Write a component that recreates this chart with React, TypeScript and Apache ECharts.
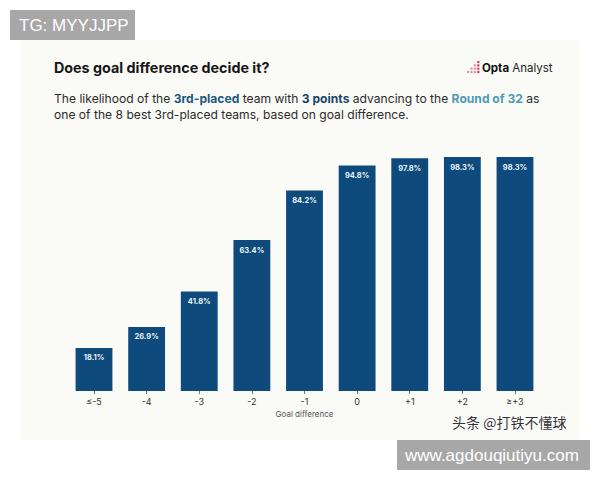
import React, { useEffect, useRef } from "react";
import * as echarts from "echarts";

const categories = ["≤-5", "-4", "-3", "-2", "-1", "0", "+1", "+2", "≥+3"];
const likelihood = [18.1, 26.9, 41.8, 63.4, 84.2, 94.8, 97.8, 98.3, 98.3];

const titleText = "Does goal difference decide it?";
const axisName = "Goal difference";

export default function App() {
  const ref = useRef<HTMLDivElement>(null);
  useEffect(() => {
    if (!ref.current) return;
    const chart = echarts.init(ref.current, null, { renderer: "svg" });
    const font = "Inter, 'Noto Sans', sans-serif";
    const dots: any[] = [];
    const dotSpec = [
      [0, 3], [1, 3], [2, 3], [3, 3],
      [1, 2], [2, 2], [3, 2],
      [2, 1], [3, 1], [3, 0],
    ];
    dotSpec.forEach(([c, r]) => {
      dots.push({
        type: "rect",
        shape: { x: 467 + c * 3.4, y: 61 + r * 3.3, width: 2.2, height: 2.2 },
        style: { fill: "#d9376f", opacity: c === 3 ? 1 : 0.55 },
        z: 5,
      });
    });
    chart.setOption({
      animation: false,
      backgroundColor: "#ffffff",
      grid: { left: 67.7, right: 58.7, top: 153, bottom: 89, containLabel: false },
      xAxis: {
        type: "category",
        data: categories,
        axisLine: { show: false },
        axisTick: { show: true, alignWithLabel: true, length: 3, lineStyle: { color: "#777" } },
        axisLabel: { color: "#333", fontSize: 9, fontFamily: font, margin: 6 },
        name: axisName,
        nameLocation: "middle",
        nameGap: 19,
        nameTextStyle: { color: "#555", fontSize: 8, fontFamily: font },
      },
      yAxis: {
        type: "value",
        min: 0,
        max: 100,
        show: false,
      },
      series: [
        {
          type: "bar",
          data: likelihood,
          barWidth: "70%",
          itemStyle: { color: "#0e4a7b" },
          label: {
            show: true,
            position: "insideTop",
            distance: 6,
            formatter: (p: any) => p.value.toFixed(1) + "%",
            color: "#eaf2fa",
            fontSize: 7.5,
            fontWeight: "bold",
            fontFamily: font,
          },
          z: 3,
        },
      ],
      graphic: [
        {
          type: "rect",
          shape: { x: 20, y: 40, width: 560, height: 400 },
          style: { fill: "#fafaf7" },
          z: -10,
          silent: true,
        },
        {
          type: "text",
          x: 54,
          y: 67,
          style: {
            text: titleText,
            fill: "#161616",
            font: `bold 14.3px ${font}`,
            verticalAlign: "middle",
          },
          z: 5,
        },
        {
          type: "text",
          x: 54,
          y: 98,
          style: {
            text: "{n|The likelihood of the }{a|3rd-placed}{n| team with }{b|3 points}{n| advancing to the }{c|Round of 32}{n| as}",
            verticalAlign: "middle",
            rich: {
              n: { fill: "#2b2b2b", fontSize: 12.1, fontFamily: font },
              a: { fill: "#1d5a7c", fontSize: 12.1, fontFamily: font, fontWeight: "bold" },
              b: { fill: "#1b4566", fontSize: 12.1, fontFamily: font, fontWeight: "bold" },
              c: { fill: "#4d9bb4", fontSize: 12.1, fontFamily: font, fontWeight: "bold" },
            },
          },
          z: 5,
        },
        {
          type: "text",
          x: 54,
          y: 114,
          style: {
            text: "one of the 8 best 3rd-placed teams, based on goal difference.",
            fill: "#2b2b2b",
            font: `12.1px ${font}`,
            verticalAlign: "middle",
          },
          z: 5,
        },
        ...dots,
        {
          type: "text",
          x: 482,
          y: 68,
          style: {
            text: "{o|Opta}{a| Analyst}",
            verticalAlign: "middle",
            rich: {
              o: { fill: "#111", fontSize: 11.5, fontWeight: "bold", fontFamily: font },
              a: { fill: "#222", fontSize: 11.5, fontFamily: font },
            },
          },
          z: 5,
        },
        {
          type: "text",
          x: 452,
          y: 422,
          style: {
            text: "头条 @打铁不懂球",
            fill: "#333",
            font: `14px 'Noto Sans CJK SC', sans-serif`,
            verticalAlign: "middle",
            stroke: "#fff",
            lineWidth: 2,
          },
          z: 20,
        },
        {
          type: "rect",
          shape: { x: 10, y: 10, width: 125, height: 30 },
          style: { fill: "#a7a7a7" },
          z: 20,
        },
        {
          type: "text",
          x: 19,
          y: 25.5,
          style: {
            text: "TG: MYYJJPP",
            fill: "#ffffff",
            font: `17px 'Liberation Sans', Arial, sans-serif`,
            verticalAlign: "middle",
          },
          z: 21,
        },
        {
          type: "rect",
          shape: { x: 397, y: 440, width: 193, height: 30 },
          style: { fill: "#a7a7a7" },
          z: 20,
        },
        {
          type: "text",
          x: 405,
          y: 455.5,
          style: {
            text: "www.agdouqiutiyu.com",
            fill: "#ffffff",
            font: `17px 'Liberation Sans', Arial, sans-serif`,
            verticalAlign: "middle",
          },
          z: 21,
        },
      ],
    });
    return () => chart.dispose();
  }, []);
  return (
    <div
      ref={ref}
      style={{ position: "fixed", left: 0, top: 0, width: 600, height: 480 }}
    />
  );
}
